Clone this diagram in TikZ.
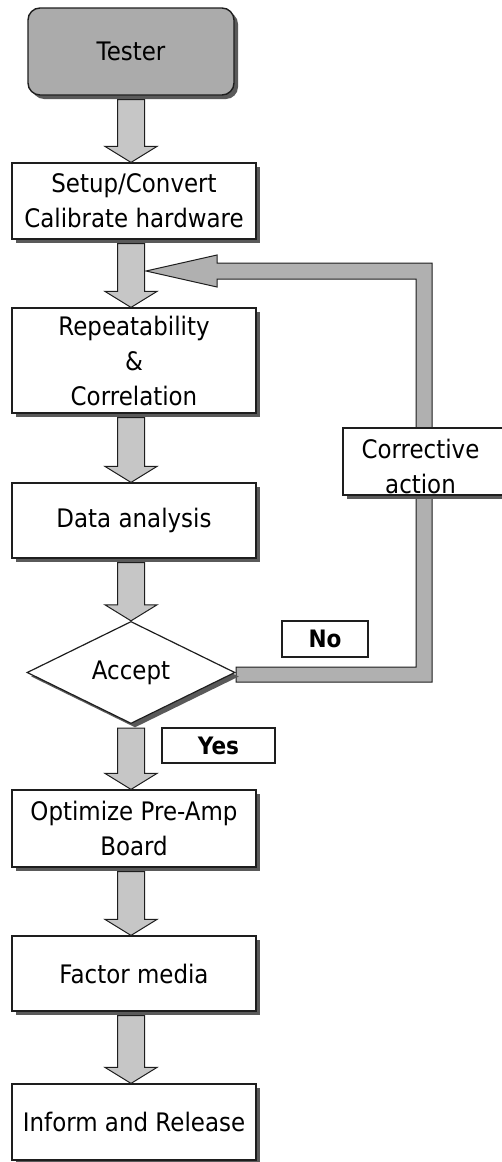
\documentclass[tikz,border=0pt]{standalone}
\usepackage{fontspec}
\setmainfont{DejaVu Sans}[FakeStretch=0.9]
\usetikzlibrary{shapes.geometric,shadows,calc}

\definecolor{arrowgray}{HTML}{C6C6C6}
\definecolor{bargray}{HTML}{B0B0B0}
\definecolor{startgray}{HTML}{ABABAB}
\definecolor{shadowgray}{HTML}{5A5A5A}
\definecolor{edge}{HTML}{1E1E1E}

\tikzset{
  boxshadow/.style={drop shadow={shadow xshift=4pt, shadow yshift=-4pt, fill=shadowgray, opacity=1}},
  flowfont/.style={font=\fontsize{25.5}{35}\selectfont},
  stepbox/.style={draw=edge, line width=1.2pt, fill=white, boxshadow,
    minimum width=244pt, inner sep=0pt, align=center, flowfont},
  startbox/.style={draw=edge, line width=1.4pt, fill=startgray, boxshadow,
    rounded corners=12pt, minimum width=206pt, minimum height=87pt,
    inner sep=0pt, flowfont},
  decision/.style={shape=diamond, draw=edge, line width=1.2pt, fill=white, boxshadow,
    minimum width=208pt, minimum height=89pt, inner sep=0pt, flowfont},
  tagbox/.style={draw=edge, line width=1.2pt, fill=white, inner sep=0pt,
    font=\fontsize{24}{28}\selectfont\bfseries},
  plaintext/.style={inner sep=0pt, align=center, flowfont},
  blockarrow/.style={draw=edge, line width=1pt, fill=arrowgray, line join=miter},
  loopbar/.style={draw=edge, line width=1pt, fill=bargray, line join=miter},
}

% hollow block arrow pointing down from one box to the next
\newcommand\flowstep[2]{%
  \path[blockarrow] let \p1=(axis), \p2=(#1.south), \p3=(#2.north) in
    (\x1-13.5pt,\y2-4pt) -- (\x1+13.5pt,\y2-4pt) -- (\x1+13.5pt,\y3+16pt)
    -- (\x1+26pt,\y3+16pt) -- (\x1,\y3) -- (\x1-26pt,\y3+16pt)
    -- (\x1-13.5pt,\y3+16pt) -- cycle;}

\begin{document}
\begin{tikzpicture}[x=1pt,y=-1pt]
\useasboundingbox (0,0) rectangle (501,1162);
\coordinate (axis) at (131,0);

% main column
\node[startbox] (tester) at (131,51.5) {Tester};
\node[stepbox, minimum height=76pt] (setup) at (134,201) {Setup/Convert\\Calibrate hardware};
\node[stepbox, minimum height=105pt] (repeat) at (134,360.5) {Repeatability\\\&\\Correlation};
\node[stepbox, minimum height=75pt] (data) at (134,520.5) {Data analysis};
\node[stepbox, minimum height=77pt] (optimize) at (134,828.5) {Optimize Pre-Amp\\Board};
\node[stepbox, minimum height=75pt] (factor) at (134,973.5) {Factor media};
\node[stepbox, minimum height=76pt] (inform) at (134,1122) {Inform and Release};

% decision and the feedback loop
\coordinate (accepttip) at (131,672.5);
\node[shape=diamond, minimum width=208pt, minimum height=89pt, inner sep=0pt] (acceptgeo) at (accepttip) {};
\node[shape=rectangle, minimum width=162pt, minimum height=67pt] (corrgeo) at (424,461.5) {};
\coordinate (tip) at ([xshift=12pt,yshift=2.5pt]$(setup.south)!.5!(repeat.north)$);

\path[loopbar] let \p1=(acceptgeo.east), \p2=(tip), \p3=(corrgeo.center) in
  (\x1+1pt,\y1+5.5pt) -- (\x3-8pt,\y1+5.5pt) -- (\x3-8pt,\y2-8pt)
  -- (\x2+71pt,\y2-8pt) -- (\x2+71pt,\y2-16pt) -- (\x2,\y2)
  -- (\x2+71pt,\y2+16pt) -- (\x2+71pt,\y2+8pt) -- (\x3+8pt,\y2+8pt)
  -- (\x3+8pt,\y1-9.5pt) -- (\x1+1pt,\y1-9.5pt) -- cycle;

\node[decision] (accept) at (accepttip) {Accept};
\node[draw=edge, line width=1.2pt, fill=white, boxshadow,
  minimum width=162pt, minimum height=67pt] (corr) at (corrgeo.center) {};
\node[plaintext, anchor=north] (corrtext) at ([xshift=-3.5pt,yshift=-12pt]corr.north) {Corrective\\action};

% branch labels
\node[tagbox, minimum width=86pt, minimum height=36pt] (no) at (325,639) {No};
\node[tagbox, minimum width=113pt, minimum height=35pt] (yes) at (218.5,745.5) {Yes};

% down arrows
\flowstep{tester}{setup}
\flowstep{setup}{repeat}
\flowstep{repeat}{data}
\flowstep{data}{accept}
\flowstep{accept}{optimize}
\flowstep{optimize}{factor}
\flowstep{factor}{inform}
\end{tikzpicture}
\end{document}
